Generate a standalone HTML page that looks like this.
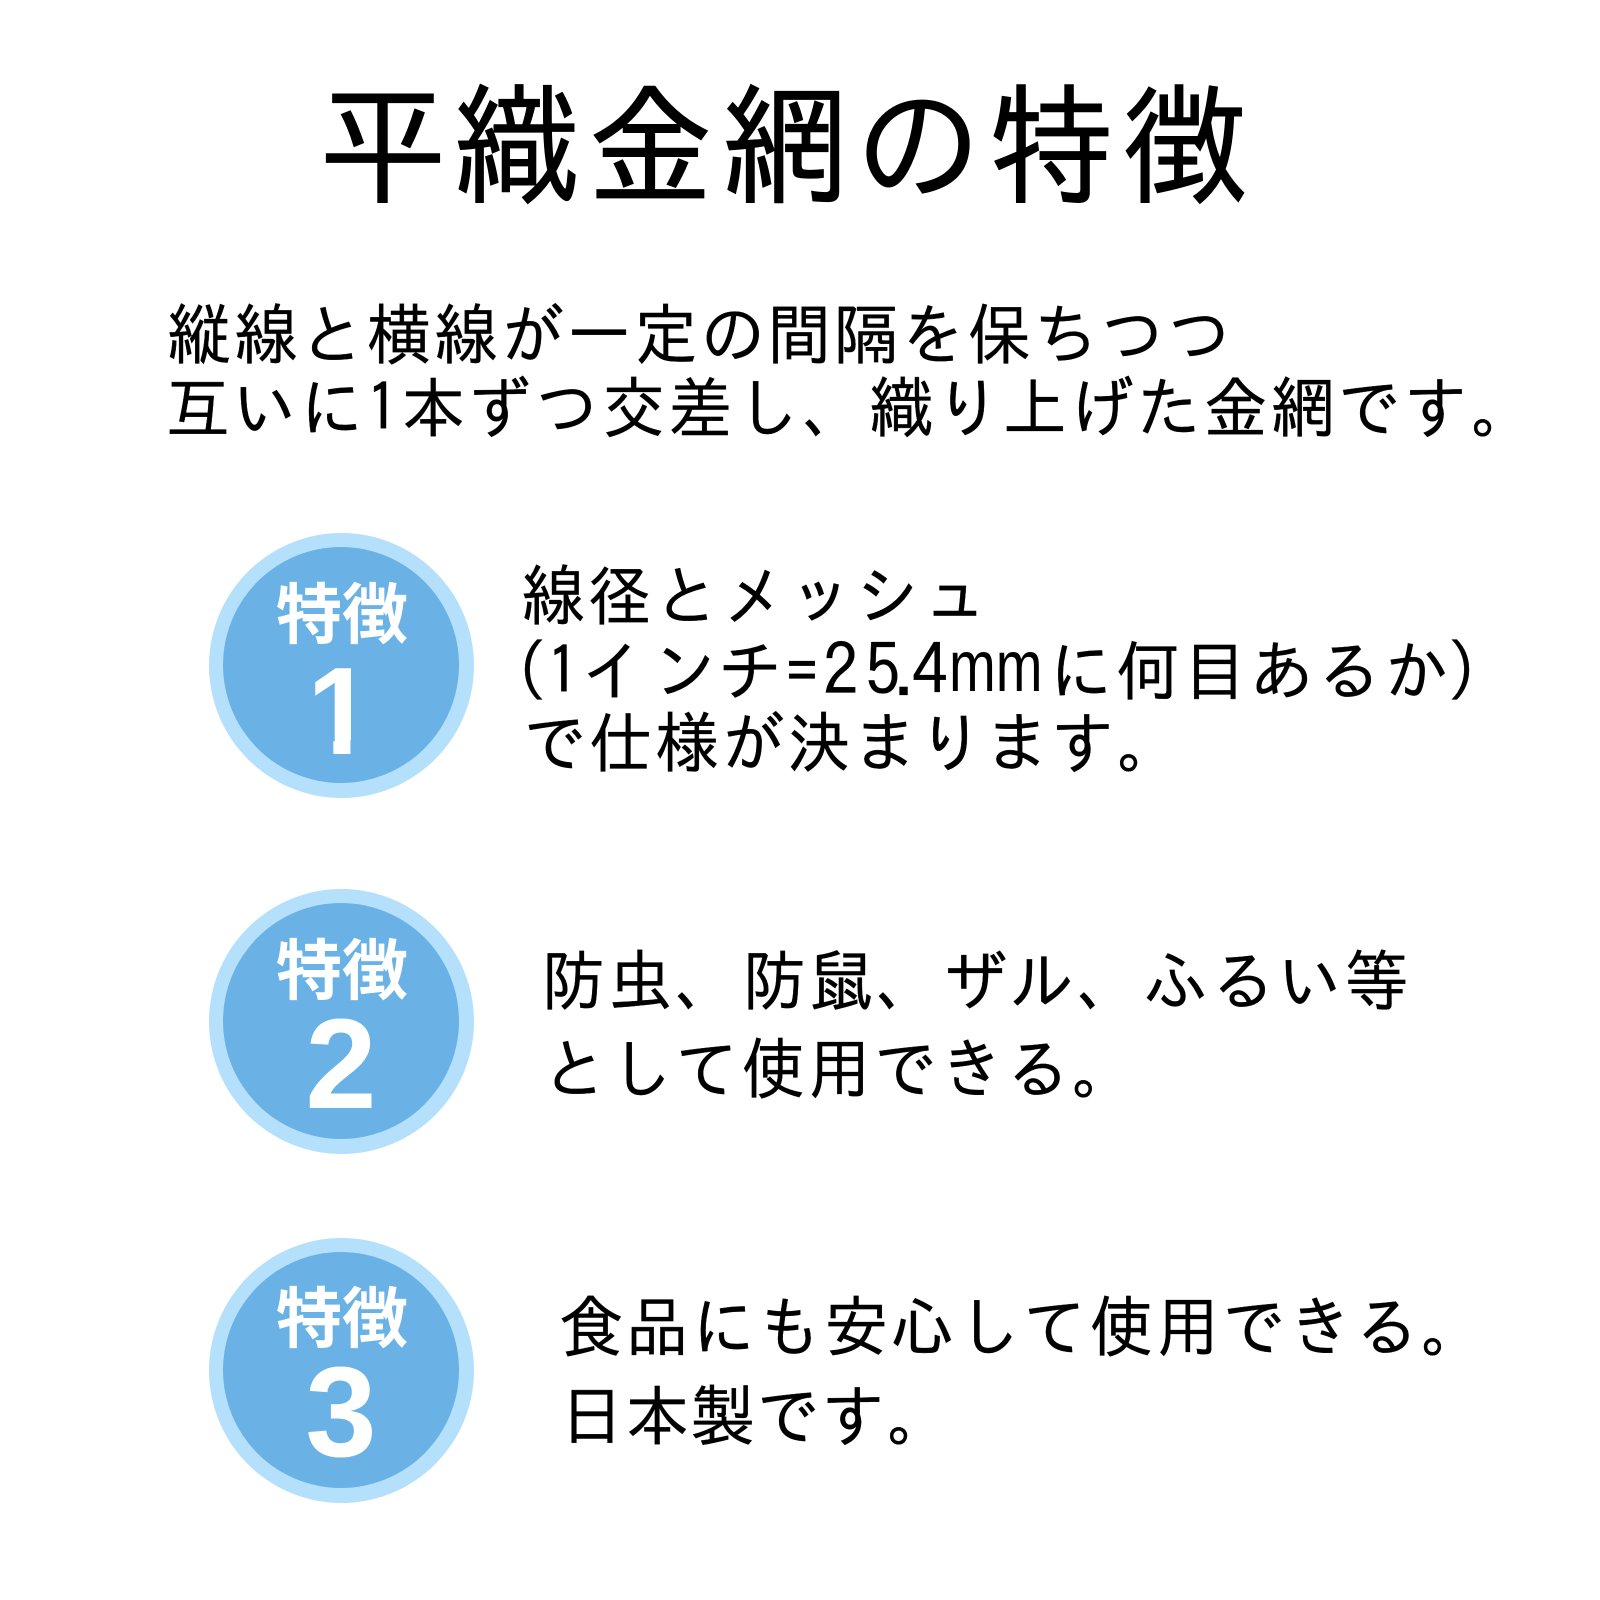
<!DOCTYPE html>
<html lang="ja"><head><meta charset="utf-8"><style>
html,body{margin:0;padding:0;background:#fff;width:1600px;height:1600px;overflow:hidden}
.t{position:absolute;white-space:pre;font-family:"IPAGothic","Noto Sans CJK JP",sans-serif;font-size:64px;letter-spacing:3px;color:#000;line-height:1;-webkit-text-stroke:0.3px #000;transform:scale(1,1.04);transform-origin:0 0}
.d{position:absolute;white-space:pre;font:71px/1 "IPAGothic",sans-serif;color:#000;top:634px;-webkit-text-stroke:0.3px #000}
.l{position:absolute;white-space:pre;font:72px/1 "Liberation Sans",sans-serif;color:#000;top:631px}
.c{position:absolute;left:209px;width:265px;height:265px;border-radius:50%;background:#b5e0fb}
.c i{position:absolute;left:14px;top:14px;width:236px;height:236px;border-radius:50%;background:#6ab2e5}
.a{position:absolute;left:276px;width:130px;text-align:center;color:#fff;font:bold 66px/1 "Noto Sans CJK JP",sans-serif;white-space:pre}
.n{position:absolute;left:276px;width:130px;text-align:center;color:#fff;font:bold 128px/1 "Liberation Sans",sans-serif}
</style></head><body>
<div class="t" style="left:320px;top:79px;font-size:126px;letter-spacing:7.7px;-webkit-text-stroke:0.8px #000;transform:scale(1,1.04)">平織金網の特徴</div>
<div class="t" style="left:167px;top:301px;letter-spacing:2.7px">縦線と横線が一定の間隔を保ちつつ</div>
<div class="t" style="left:166px;top:374px;letter-spacing:2.85px">互いに1本ずつ交差し、織り上げた金網です。</div>

<div class="c" style="top:533px"><i></i></div>
<div class="a" style="top:577px">特徴</div>
<div class="n" style="left:275px;top:650px;font-size:124px;transform:scaleX(.95);clip-path:polygon(0 0,130px 0,130px 90px,76px 90px,76px 130px,58px 130px,58px 90px,0 90px)">1</div>
<div class="t" style="left:521px;top:562px">線径とメッシュ</div>
<div class="t" style="left:515px;top:637px">(</div>
<div class="t" style="left:547px;top:637px">1</div>
<div class="t" style="left:581px;top:637px">イ</div>
<div class="t" style="left:653px;top:637px">ン</div>
<div class="t" style="left:718px;top:637px">チ</div>
<div class="t" style="left:786px;top:637px">=</div>
<div class="d" style="left:823px">2</div>
<div class="d" style="left:865px">5</div>
<div class="d" style="left:894px;font-size:60px;top:643px">.</div>
<div class="d" style="left:912px">4</div>
<div class="l" style="left:949px;transform:scaleX(.78);transform-origin:0 0">mm</div>
<div class="t" style="left:1049px;top:637px">に何目あるか</div>
<div class="t" style="left:1447px;top:637px">)</div>
<div class="t" style="left:523px;top:709px;letter-spacing:2px">で仕様が決まります。</div>

<div class="c" style="top:889px"><i></i></div>
<div class="a" style="top:933px">特徴</div>
<div class="n" style="top:1001px">2</div>
<div class="t" style="left:541px;top:947px">防虫、防鼠、ザル、ふるい等</div>
<div class="t" style="left:543px;top:1035px;letter-spacing:2.1px">として使用できる。</div>

<div class="c" style="top:1238px"><i></i></div>
<div class="a" style="top:1281px">特徴</div>
<div class="n" style="top:1349px">3</div>
<div class="t" style="left:559px;top:1293px;letter-spacing:2.3px">食品にも安心して使用できる。</div>
<div class="t" style="left:560px;top:1382px;letter-spacing:1.4px">日本製です。</div>
</body></html>
